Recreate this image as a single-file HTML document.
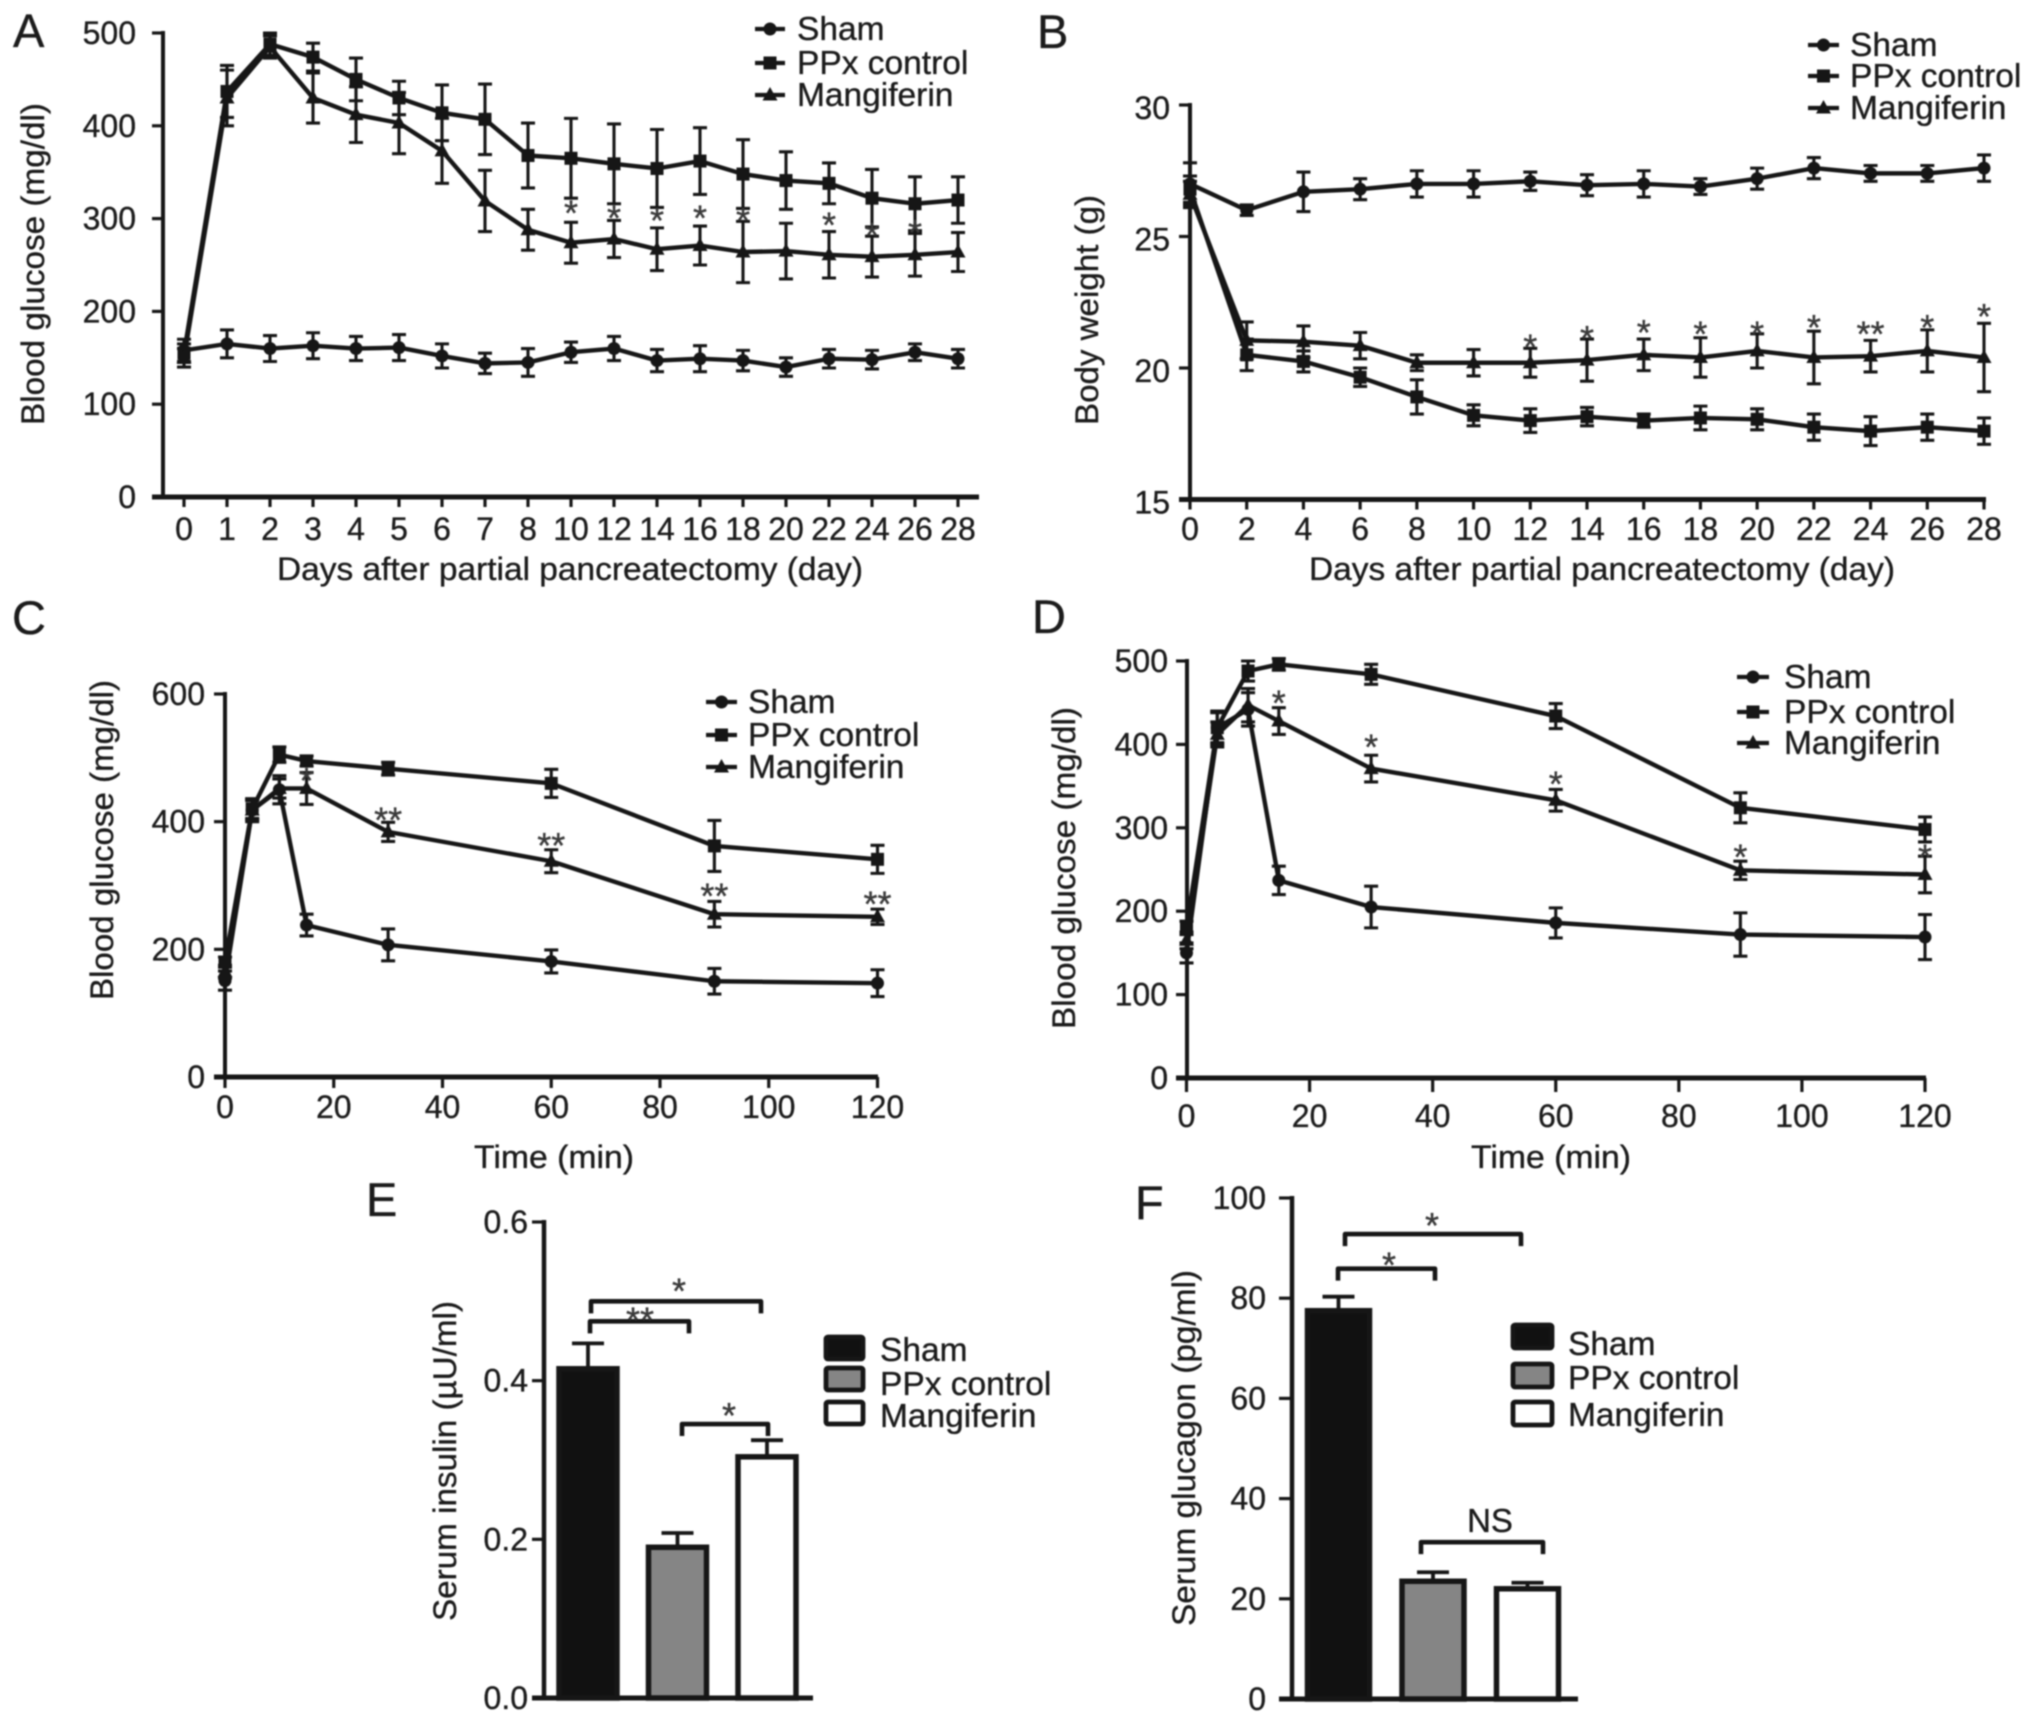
<!DOCTYPE html>
<html lang="en">
<head>
<meta charset="utf-8">
<title>Mangiferin blood glucose, body weight, insulin and glucagon panels</title>
<style>
html,body{margin:0;padding:0;background:#fff;width:2032px;height:1723px;overflow:hidden}
svg{display:block;filter:blur(0.85px)}
text{font-family:"Liberation Sans",Arial,sans-serif;fill:#1b1b1b;stroke:#1b1b1b;stroke-width:0.35px}
</style>
</head>
<body>
<svg id="figure" xmlns="http://www.w3.org/2000/svg" width="2032" height="1723" viewBox="0 0 2032 1723"></svg>
<script>
// ---------- Panel A data ----------
const aDays = [0,1,2,3,4,5,6,7,8,10,12,14,16,18,20,22,24,26,28];
const aShamMean = [158,165,160,163,160,161,152,144,145,156,160,147,149,147,140,149,148,156,149];
const aShamErr = [12,15,14,14,13,14,13,11,15,11,13,12,14,11,10,10,10,9,10];
const aPpxMean = [155,437,488,474,450,430,414,407,368,365,359,354,362,348,341,338,322,316,320];
const aPpxErr = [10,28,12,15,23,18,30,38,35,43,43,42,36,37,31,22,31,29,25];
const aMangMean = [150,430,485,430,412,403,373,319,288,274,278,267,271,264,265,261,259,261,264];
const aMangErr = [10,30,12,27,30,33,35,33,22,22,20,23,21,33,30,25,22,23,21];
const aStarDays = [10,12,14,16,18,22,24,26];
const aStarValues = [315,310,307,310,307,302,291,294];
const aStarLabels = ["*","*","*","*","*","*","*","*"];
const aYTicks = [0,100,200,300,400,500];

// ---------- Panel B data ----------
const bDays = [0,2,4,6,8,10,12,14,16,18,20,22,24,26,28];
const bShamMean = [27,26,26.7,26.8,27,27,27.1,26.95,27,26.9,27.2,27.6,27.4,27.4,27.6];
const bShamErr = [0.8,0.2,0.75,0.4,0.5,0.5,0.35,0.4,0.5,0.3,0.4,0.4,0.3,0.3,0.5];
const bPpxMean = [26.8,20.5,20.25,19.65,18.9,18.2,18,18.15,18,18.1,18.05,17.75,17.6,17.75,17.6];
const bPpxErr = [0.5,0.6,0.4,0.35,0.65,0.4,0.45,0.35,0.25,0.45,0.4,0.5,0.55,0.5,0.5];
const bMangMean = [26.6,21.05,21,20.85,20.2,20.2,20.2,20.3,20.5,20.4,20.65,20.4,20.45,20.65,20.4];
const bMangErr = [0.5,0.7,0.6,0.5,0.3,0.5,0.55,0.8,0.6,0.75,0.65,1,0.6,0.8,1.3];
const bStarDays = [12,14,16,18,20,22,24,26,28];
const bStarValues = [21.13,21.45,21.67,21.62,21.62,21.86,21.62,21.86,22.28];
const bStarLabels = ["*","*","*","*","*","*","**","*","*"];
const bYTicks = [15,20,25,30];

// ---------- Panel C data ----------
const cTimes = [0,5,10,15,30,60,90,120];
const cShamMean = [151,418,450,238,207,181,150,147];
const cShamErr = [15,18,22,17,25,18,20,21];
const cPpxMean = [180,420,505,495,483,460,362,341];
const cPpxErr = [8,15,12,8,10,22,40,22];
const cMangMean = [165,418,452,452,384,338,255,251];
const cMangErr = [10,15,15,25,15,18,20,12];
const cStarTimes = [15,30,60,90,120];
const cStarValues = [478,416,376,297,284];
const cStarLabels = ["*","**","**","**","**"];
const cXTicks = [0,20,40,60,80,100,120];
const cYTicks = [0,200,400,600];

// ---------- Panel D data ----------
const dTimes = [0,5,10,15,30,60,90,120];
const dShamMean = [150,420,442,237,205,186,172,169];
const dShamErr = [12,20,20,17,25,18,26,27];
const dPpxMean = [180,420,488,496,484,434,324,298];
const dPpxErr = [8,18,12,7,12,15,18,15];
const dMangMean = [165,412,447,428,371,333,249,244];
const dMangErr = [10,15,20,16,16,13,11,22];
const dStarTimes = [15,30,60,90,120];
const dStarValues = [460,407,363,275,275];
const dStarLabels = ["*","*","*","*","*"];
const dXTicks = [0,20,40,60,80,100,120];
const dYTicks = [0,100,200,300,400,500];

// ---------- Panel E data ----------
const eGroups = ["Sham","PPx control","Mangiferin"];
const eMeans = [0.415,0.19,0.304];
const eErrs = [0.032,0.018,0.021];
const eYTicks = [0,0.2,0.4,0.6];
const eYTickLabels = ["0.0","0.2","0.4","0.6"];

// ---------- Panel F data ----------
const fGroups = ["Sham","PPx control","Mangiferin"];
const fMeans = [77.5,23.5,22];
const fErrs = [2.8,1.8,1.2];
const fYTicks = [0,20,40,60,80,100];
const fYTickLabels = ["0","20","40","60","80","100"];

const seriesNames = ["Sham","PPx control","Mangiferin"];
const INK = "#161616";
const NS = "http://www.w3.org/2000/svg";
const root = document.getElementById("figure");

function mk(parent, tag, attrs, text) {
  const node = document.createElementNS(NS, tag);
  for (const k in attrs) node.setAttribute(k, attrs[k]);
  if (text !== undefined) node.textContent = text;
  parent.appendChild(node);
  return node;
}
function slug(s) { return s.toLowerCase().replace(/[^a-z0-9]+/g, "-"); }

function drawMarker(parent, kind, x, y, seriesSlug) {
  let m;
  if (kind === 0) {
    m = mk(parent, "circle", {cx:x, cy:y, r:6.5, fill:INK});
  } else if (kind === 1) {
    m = mk(parent, "rect", {x:x-6.5, y:y-6.5, width:13, height:13, fill:INK});
  } else {
    m = mk(parent, "polygon", {points:(x)+","+(y-8)+" "+(x+7.5)+","+(y+5.5)+" "+(x-7.5)+","+(y+5.5), fill:INK});
  }
  
  
  return m;
}

function drawAxes(g, c, yScale, yTicks, yTickLabels) {
  const yAxis = mk(g, "line", {x1:c.axisX, x2:c.axisX, y1:yScale(yTicks[yTicks.length-1])-2, y2:c.y0, stroke:INK, "stroke-width":c.yAxisW||4});
  
  
  const xAxis = mk(g, "line", {x1:c.axisX-c.tickLen, x2:c.axisEnd, y1:c.y0, y2:c.y0, stroke:INK, "stroke-width":c.xAxisW||5});
  
  
  const off = c.yLabelOffset === undefined ? 11 : c.yLabelOffset;
  yTicks.forEach(function (t, i) {
    const y = yScale(t);
    const tick = mk(g, "line", {x1:c.axisX-c.tickLen, x2:c.axisX, y1:y, y2:y, stroke:INK, "stroke-width":3.2});
    
    
    const lab = mk(g, "text", {x:c.yLabelX, y:y+off, "text-anchor":"end", "font-size":32}, yTickLabels ? yTickLabels[i] : String(t));
    
    
  });
  const title = mk(g, "text", {
    transform:"translate("+c.yTitleX+","+c.yTitleY+") rotate(-90)",
    "text-anchor":"middle", "font-size":32, textLength:c.yTitleLen, lengthAdjust:"spacingAndGlyphs"
  }, c.yTitle);
  
  
}

function drawPanelLetter(g, c) {
  const letter = mk(g, "text", {x:c.letterX, y:c.letterY, "font-size":47}, c.letter);
  
  
}

function drawLinePanel(c) {
  const g = mk(root, "g", {});
  
  
  drawPanelLetter(g, c);

  const yScale = function (v) { return c.y0 + (v - c.yMin) / (c.yMax - c.yMin) * (c.y1 - c.y0); };
  const xScale = c.categorical
    ? function (v) { return c.x0 + c.xs.indexOf(v) * (c.x1 - c.x0) / (c.xs.length - 1); }
    : function (v) { return c.x0 + (v - c.xMin) / (c.xMax - c.xMin) * (c.x1 - c.x0); };

  drawAxes(g, c, yScale, c.yTicks);

  c.xTicks.forEach(function (t) {
    const x = xScale(t);
    const tick = mk(g, "line", {x1:x, x2:x, y1:c.y0, y2:c.y0+c.xTickLen, stroke:INK, "stroke-width":3.2});
    
    
    const lab = mk(g, "text", {x:x, y:c.xLabelY, "text-anchor":"middle", "font-size":32}, String(t));
    
    
  });
  const xTitle = mk(g, "text", {x:c.xTitleX, y:c.xTitleY, "text-anchor":"middle", "font-size":32, textLength:c.xTitleLen, lengthAdjust:"spacingAndGlyphs"}, c.xTitle);
  
  

  c.series.forEach(function (s, si) {
    const sSlug = slug(seriesNames[si]);
    const sg = mk(g, "g", {});
    
    
    c.xs.forEach(function (v, i) {
      const x = xScale(v);
      const top = yScale(s.mean[i] + s.err[i]);
      const bot = yScale(s.mean[i] - s.err[i]);
      const eb = mk(sg, "path", {d:"M"+(x-7)+" "+top+"H"+(x+7)+"M"+x+" "+top+"V"+bot+"M"+(x-7)+" "+bot+"H"+(x+7), stroke:INK, "stroke-width":3.1, fill:"none"});
      
      
    });
    const pts = c.xs.map(function (v, i) { return xScale(v) + "," + yScale(s.mean[i]); }).join(" ");
    const line = mk(sg, "polyline", {points:pts, fill:"none", stroke:INK, "stroke-width":4.4, "stroke-linejoin":"round"});
    
    
    c.xs.forEach(function (v, i) { drawMarker(sg, si, xScale(v), yScale(s.mean[i]), sSlug); });
  });

  c.starXs.forEach(function (v, i) {
    const star = mk(g, "text", {x:xScale(v), y:yScale(c.starValues[i])+21, "text-anchor":"middle", "font-size":36, style:"fill:#3a3a3a;stroke:#3a3a3a"}, c.starLabels[i]);
    
    
  });

  const l = c.legend;
  seriesNames.forEach(function (name, i) {
    const lg = mk(g, "g", {});
    
    
    const ln = mk(lg, "line", {x1:l.x1, x2:l.x2, y1:l.ys[i], y2:l.ys[i], stroke:INK, "stroke-width":4.2});
    
    
    drawMarker(lg, i, (l.x1+l.x2)/2, l.ys[i], 'legend');
    const tx = mk(lg, "text", {x:l.tx, y:l.ys[i]+11, "font-size":33.5}, name);
    
    
  });
}

function drawBarPanel(c) {
  const g = mk(root, "g", {});
  
  
  drawPanelLetter(g, c);

  const yScale = function (v) { return c.y0 + (v - c.yMin) / (c.yMax - c.yMin) * (c.y1 - c.y0); };
  const fills = ["#111111","#858585","#ffffff"];

  c.means.forEach(function (m, i) {
    const cx = c.firstCenter + i * c.spacing;
    const top = yScale(m);
    const eTop = yScale(m + c.errs[i]);
    const slugName = slug(c.groups[i]);
    const eb = mk(g, "path", {d:"M"+cx+" "+top+"V"+eTop+"M"+(cx-c.capHalf)+" "+eTop+"H"+(cx+c.capHalf), stroke:INK, "stroke-width":3.8, fill:"none"});
    
    
    const bar = mk(g, "rect", {x:cx-c.barW/2, y:top, width:c.barW, height:c.y0-top, fill:fills[i], stroke:INK, "stroke-width":5.5});
    
    
  });

  drawAxes(g, c, yScale, c.yTicks, c.yTickLabels);

  c.brackets.forEach(function (b) {
    const y = yScale(b.v);
    const br = mk(g, "path", {d:"M"+b.a+" "+(y+c.drop)+"V"+y+"H"+b.b+"V"+(y+c.drop), stroke:INK, "stroke-width":4.6, fill:"none", "stroke-linejoin":"round"});
    
    
    const ns = b.label === "NS";
    const lab = mk(g, "text", {x:b.lx, y:y-b.ly+(ns?13:21), "text-anchor":"middle", "font-size":ns?33:36, style:ns?"":"fill:#3a3a3a;stroke:#3a3a3a"}, b.label);
    
    
  });

  c.groups.forEach(function (name, i) {
    const lg = mk(g, "g", {});
    
    
    const sw = mk(lg, "rect", {x:c.lgX, y:c.lgYs[i], width:c.lgW, height:c.lgH, rx:2, fill:fills[i], stroke:INK, "stroke-width":4.8});
    
    
    const tx = mk(lg, "text", {x:c.lgTx, y:c.lgTys[i], "font-size":33.5}, name);
    
    
  });
}

drawLinePanel({
  letter:"A", letterX:13, letterY:47, categorical:true,
  xs:aDays, xTicks:aDays, x0:184, x1:958, y0:497, y1:33, yMin:0, yMax:500,
  axisX:163, axisEnd:979, tickLen:11, xTickLen:10, xLabelY:540, yLabelX:136, yTicks:aYTicks,
  yTitle:"Blood glucose (mg/dl)", yTitleX:44, yTitleY:264, yTitleLen:322,
  xTitle:"Days after partial pancreatectomy (day)", xTitleX:570, xTitleY:580, xTitleLen:586,
  series:[{mean:aShamMean,err:aShamErr},{mean:aPpxMean,err:aPpxErr},{mean:aMangMean,err:aMangErr}],
  starXs:aStarDays, starValues:aStarValues, starLabels:aStarLabels,
  legend:{x1:755,x2:785,tx:797,ys:[29,63,95]}
});

drawLinePanel({
  letter:"B", letterX:1037, letterY:48,
  xs:bDays, xTicks:bDays, xMin:0, xMax:28, x0:1190, x1:1984, y0:499.5, y1:105, yMin:15, yMax:30,
  axisX:1190, axisEnd:1986, tickLen:11, xTickLen:10, xLabelY:540, yLabelX:1170, yLabelOffset:14, yTicks:bYTicks,
  yTitle:"Body weight (g)", yTitleX:1098, yTitleY:310, yTitleLen:230,
  xTitle:"Days after partial pancreatectomy (day)", xTitleX:1602, xTitleY:580, xTitleLen:586,
  series:[{mean:bShamMean,err:bShamErr},{mean:bPpxMean,err:bPpxErr},{mean:bMangMean,err:bMangErr}],
  starXs:bStarDays, starValues:bStarValues, starLabels:bStarLabels,
  legend:{x1:1808,x2:1839,tx:1850,ys:[45,76,108]}
});

drawLinePanel({
  letter:"C", letterX:12, letterY:634,
  xs:cTimes, xTicks:cXTicks, xMin:0, xMax:120, x0:225, x1:877.5, y0:1077, y1:694, yMin:0, yMax:600,
  axisX:225, axisEnd:878, tickLen:11, xTickLen:11, xLabelY:1118, yLabelX:205, yTicks:cYTicks,
  yTitle:"Blood glucose (mg/dl)", yTitleX:113, yTitleY:840, yTitleLen:320,
  xTitle:"Time (min)", xTitleX:554, xTitleY:1168, xTitleLen:160,
  series:[{mean:cShamMean,err:cShamErr},{mean:cPpxMean,err:cPpxErr},{mean:cMangMean,err:cMangErr}],
  starXs:cStarTimes, starValues:cStarValues, starLabels:cStarLabels,
  legend:{x1:706,x2:737,tx:748,ys:[702,735,767]}
});

drawLinePanel({
  letter:"D", letterX:1032, letterY:633,
  xs:dTimes, xTicks:dXTicks, xMin:0, xMax:120, x0:1186.5, x1:1925, y0:1078, y1:661, yMin:0, yMax:500,
  axisX:1187, axisEnd:1926, tickLen:11, xTickLen:14, xLabelY:1127, yLabelX:1168, yTicks:dYTicks,
  yTitle:"Blood glucose (mg/dl)", yTitleX:1075, yTitleY:868, yTitleLen:322,
  xTitle:"Time (min)", xTitleX:1551, xTitleY:1168, xTitleLen:160,
  series:[{mean:dShamMean,err:dShamErr},{mean:dPpxMean,err:dPpxErr},{mean:dMangMean,err:dMangErr}],
  starXs:dStarTimes, starValues:dStarValues, starLabels:dStarLabels,
  legend:{x1:1737,x2:1769,tx:1784,ys:[677,712,743]}
});

drawBarPanel({
  letter:"E", letterX:366, letterY:1216,
  groups:eGroups, means:eMeans, errs:eErrs,
  firstCenter:588, spacing:89.5, barW:58, capHalf:16,
  y0:1698, y1:1222, yMin:0, yMax:0.6, yTicks:eYTicks, yTickLabels:eYTickLabels,
  axisX:544, axisEnd:813, tickLen:12, yLabelX:528, yAxisW:4.5, xAxisW:5,
  yTitle:"Serum insulin (\u00b5U/ml)", yTitleX:456, yTitleY:1461, yTitleLen:320,
  drop:12,
  brackets:[
    {a:591,b:761,v:0.5,lx:679,ly:19,label:"*"},
    {a:590,b:689,v:0.4748,lx:640,ly:10,label:"**"},
    {a:682,b:768,v:0.3453,lx:729,ly:17,label:"*"}
  ],
  lgX:826, lgW:37, lgH:22, lgYs:[1337,1368,1402], lgTx:880, lgTys:[1361,1395,1427]
});

drawBarPanel({
  letter:"F", letterX:1135, letterY:1219,
  groups:fGroups, means:fMeans, errs:fErrs,
  firstCenter:1338.5, spacing:94.5, barW:62, capHalf:16,
  y0:1699, y1:1198, yMin:0, yMax:100, yTicks:fYTicks, yTickLabels:fYTickLabels,
  axisX:1292, axisEnd:1578, tickLen:13, yLabelX:1266, yAxisW:4.5, xAxisW:5,
  yTitle:"Serum glucagon (pg/ml)", yTitleX:1195, yTitleY:1448, yTitleLen:356,
  drop:12,
  brackets:[
    {a:1345,b:1521,v:92.8,lx:1432,ly:17,label:"*"},
    {a:1338,b:1435,v:85.9,lx:1389,ly:12,label:"*"},
    {a:1421,b:1543,v:31.3,lx:1490,ly:23,label:"NS"}
  ],
  lgX:1513, lgW:39, lgH:23, lgYs:[1325,1364,1402], lgTx:1568, lgTys:[1355,1389,1426]
});
</script>
</body>
</html>
